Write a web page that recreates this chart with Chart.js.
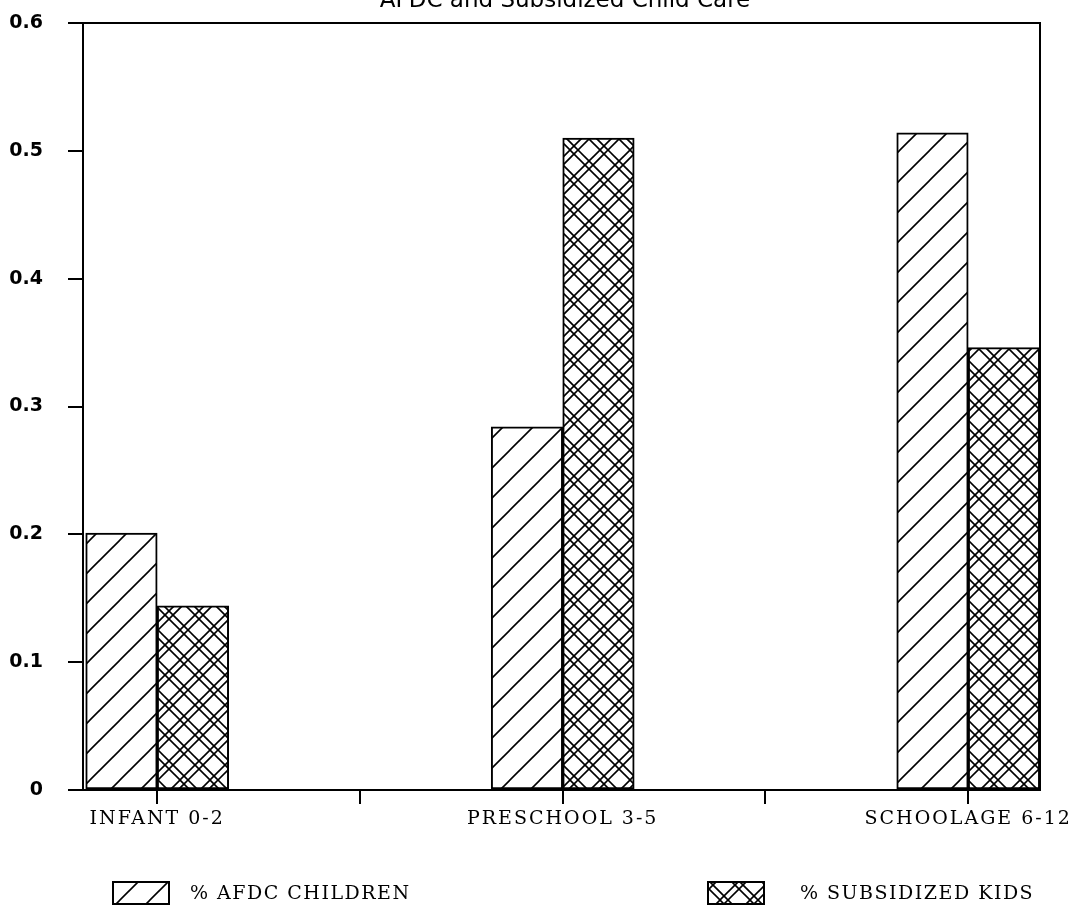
<!DOCTYPE html>
<html>
<head>
<meta charset="utf-8">
<script src="https://cdn.jsdelivr.net/npm/chart.js@4.4.1/dist/chart.umd.min.js"></script>
<style>
html,body{margin:0;padding:0;background:#fff;overflow:hidden}
#wrap{position:relative;width:1082px;height:911px}
</style>
</head>
<body>
<div id="wrap"><canvas id="c" width="1082" height="911"></canvas></div>
<script>
// ---- data ----
const titleText = 'AFDC and Subsidized Child Care';
const categories = ['INFANT 0-2', 'PRESCHOOL 3-5', 'SCHOOLAGE 6-12'];
const seriesNames = ['% AFDC CHILDREN', '% SUBSIDIZED KIDS'];
const afdcChildren = [0.201, 0.284, 0.514];
const subsidizedKids = [0.144, 0.510, 0.346];
const yTicks = [0, 0.1, 0.2, 0.3, 0.4, 0.5, 0.6];
const yTickLabels = ['0', '0.1', '0.2', '0.3', '0.4', '0.5', '0.6'];
const xTicks = [0, 0.5, 1, 1.5, 2];

// ---- hatch patterns ----
function makePattern(fwdOffsets, backOffsets, s, lw) {
  const c = document.createElement('canvas');
  c.width = s; c.height = s;
  const g = c.getContext('2d');
  g.fillStyle = '#fff'; g.fillRect(0, 0, s, s);
  g.strokeStyle = '#000'; g.lineWidth = lw;
  const seg = (a, b, cc, d) => { g.beginPath(); g.moveTo(a, b); g.lineTo(cc, d); g.stroke(); };
  fwdOffsets.forEach(o => {
    for (let k = -1; k <= 2; k++) {
      const q = k * s + o;
      seg(q + 4, -4, q - s - 4, s + 4);
    }
  });
  backOffsets.forEach(o => {
    for (let k = -1; k <= 1; k++) {
      const q = k * s + o;
      seg(q - 4, -4, q + s + 4, s + 4);
    }
  });
  return g.createPattern(c, 'repeat');
}
const patDiag = makePattern([0], [], 30, 1.6);
const patCross = makePattern([0, 8], [0, 8], 30, 1.6);
const patterns = [patDiag, patCross];

// ---- plugins ----
const spacingPlugin = {
  id: 'spacing',
  beforeDraw(chart) { chart.ctx.letterSpacing = '0px'; },
  beforeDatasetsDraw(chart) { chart.ctx.letterSpacing = '2px'; }
};
const framePlugin = {
  id: 'frame',
  afterDraw(chart) {
    const ctx = chart.ctx, a = chart.chartArea;
    ctx.save();
    ctx.strokeStyle = '#000'; ctx.lineWidth = 2;
    ctx.beginPath();
    ctx.moveTo(a.left, a.top); ctx.lineTo(a.right, a.top); ctx.lineTo(a.right, a.bottom);
    ctx.stroke();
    ctx.letterSpacing = '0px';
    ctx.fillStyle = '#000';
    ctx.font = '23px "DejaVu Sans"';
    ctx.textAlign = 'center'; ctx.textBaseline = 'alphabetic';
    ctx.fillText(titleText, 565, 7);
    const items = [{bx: 113, tx: 190}, {bx: 708, tx: 800}];
    ctx.font = '19px "DejaVu Serif"';
    ctx.letterSpacing = '1.5px';
    ctx.textAlign = 'left'; ctx.textBaseline = 'middle';
    chart.data.datasets.forEach((ds, i) => {
      const it = items[i];
      const by = 882, bw = 56, bh = 22;
      ctx.fillStyle = ds.backgroundColor;
      ctx.fillRect(it.bx, by, bw, bh);
      ctx.strokeStyle = '#000'; ctx.lineWidth = 2;
      ctx.strokeRect(it.bx, by, bw, bh);
      ctx.fillStyle = '#000';
      ctx.fillText(ds.label, it.tx, by + bh / 2 + 1);
    });
    ctx.letterSpacing = '0px';
    ctx.restore();
  }
};

const seriesValues = [afdcChildren, subsidizedKids];
new Chart(document.getElementById('c'), {
  type: 'bar',
  data: {
    datasets: seriesValues.map((vals, k) => ({
      label: seriesNames[k],
      data: categories.map((c, i) => ({x: i, y: vals[i]})),
      backgroundColor: patterns[k],
      borderColor: '#000',
      borderWidth: 2,
      borderSkipped: false,
      barThickness: 71.5
    }))
  },
  options: {
    responsive: false,
    animation: false,
    devicePixelRatio: 1,
    layout: {padding: {top: 23, right: 42, left: 0, bottom: 0}},
    plugins: {legend: {display: false}, title: {display: false}, tooltip: {enabled: false}},
    scales: {
      x: {
        type: 'linear', min: -0.183, max: 2.177, offset: false,
        afterFit(s) { s.height = 121; s.paddingLeft = 0; s.paddingRight = 0; },
        afterBuildTicks(s) { s.ticks = xTicks.map(v => ({value: v})); },
        ticks: {
          z: 1, autoSkip: false, maxRotation: 0, minRotation: 0, padding: 4, color: '#000',
          font: {family: 'DejaVu Serif', size: 19},
          callback: (v) => Number.isInteger(v) ? categories[v] : ''
        },
        grid: {drawOnChartArea: false, offset: false, tickLength: 14, color: '#000', lineWidth: 2},
        border: {display: true, color: '#000', width: 2}
      },
      y: {
        min: 0, max: 0.6,
        afterFit(s) { s.width = 83; s.paddingTop = 0; s.paddingBottom = 0; },
        afterBuildTicks(s) { s.ticks = yTicks.map(v => ({value: v})); },
        ticks: {
          padding: 25, color: '#000',
          font: {family: 'DejaVu Sans', size: 19, weight: 'bold'},
          callback: (v, i) => yTickLabels[i]
        },
        grid: {drawOnChartArea: false, tickLength: 15, color: '#000', lineWidth: 2},
        border: {display: true, color: '#000', width: 2}
      }
    }
  },
  plugins: [spacingPlugin, framePlugin]
});
</script>
</body>
</html>
